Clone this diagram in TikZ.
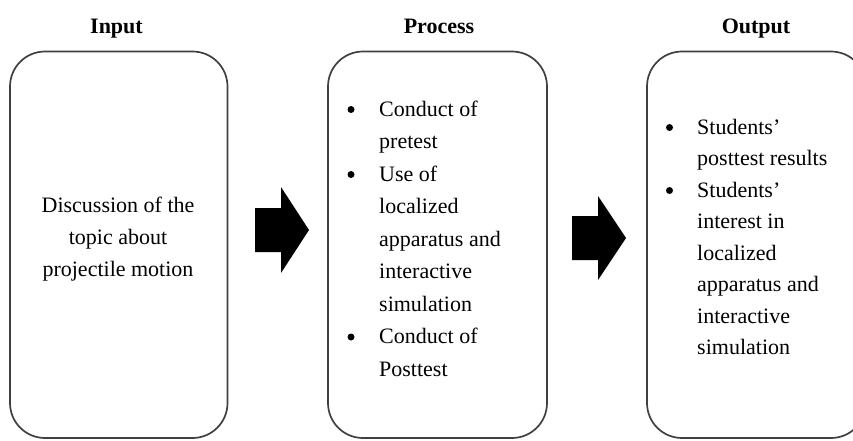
\documentclass[tikz,border=0pt]{standalone}
\usepackage{fontspec}
\setmainfont{Liberation Serif}
\newcommand\bodyfnt{\fontsize{22}{32}\selectfont}
\newcommand\titlefnt{\fontsize{22}{26}\selectfont\bfseries}
\begin{document}
\begin{tikzpicture}[x=1pt,y=-1pt,
  box/.style={draw=black!75, line width=1.7pt, rounded corners=35pt, minimum height=386.5pt, inner sep=0pt},
  ttl/.style={font=\titlefnt, anchor=base, inner sep=0pt},
  txt/.style={font=\bodyfnt, anchor=base west, inner sep=0pt},
  bul/.style={circle, fill=black, inner sep=0pt, minimum size=7pt},
  blockarrow/.style={fill=black}]
\useasboundingbox (0,0) rectangle (853,440);
\clip (0,0) rectangle (853,440);
\fill[white] (0,0) rectangle (853,440);

% boxes
\node[box, minimum width=217.5pt] (inbox) at (118.75,244.75) {};
\node[box, minimum width=219pt] (procbox) at (437.5,244.75) {};
\node[box, minimum width=219pt] (outbox) at (756.5,244.75) {};

% titles
\node[ttl] (tin) at (116.5,33) {Input};
\node[ttl] (tproc) at (439,33) {Process};
\node[ttl] (tout) at (756,33) {Output};

% input text
\node[font=\bodyfnt, align=center, inner sep=0pt] (intext) at (118,239)
  {Discussion of the\\topic about\\projectile motion};

% process list
\node[bul] (pb1) at (351,109.5) {};
\node[txt] (p1) at (379,116) {Conduct of};
\node[txt] (p2) at (379,148.5) {pretest};
\node[bul] (pb2) at (351,174.5) {};
\node[txt] (p3) at (379,181) {Use of};
\node[txt] (p4) at (379,213.5) {localized};
\node[txt] (p5) at (379,246) {apparatus and};
\node[txt] (p6) at (379,278.5) {interactive};
\node[txt] (p7) at (379,311) {simulation};
\node[bul] (pb3) at (351,337) {};
\node[txt] (p8) at (379,343.5) {Conduct of};
\node[txt] (p9) at (379,376) {Posttest};

% output list
\node[bul] (ob1) at (669.5,127.5) {};
\node[txt] (o1) at (697,134) {Students’};
\node[txt] (o2) at (697,165.5) {posttest results};
\node[bul] (ob2) at (669.5,190.5) {};
\node[txt] (o3) at (697,197) {Students’};
\node[txt] (o4) at (697,228.5) {interest in};
\node[txt] (o5) at (697,260) {localized};
\node[txt] (o6) at (697,291.5) {apparatus and};
\node[txt] (o7) at (697,323) {interactive};
\node[txt] (o8) at (697,354.5) {simulation};

% block arrows between boxes
\coordinate (a1) at (255,230);
\coordinate (a2) at (572,238);
\fill[blockarrow] (a1) ++(0,-22) -- ++(26,0) -- ++(0,-21) -- ++(28,43) -- ++(-28,43) -- ++(0,-21) -- ++(-26,0) -- cycle;
\fill[blockarrow] (a2) ++(0,-22) -- ++(26,0) -- ++(0,-20) -- ++(28,42) -- ++(-28,42) -- ++(0,-20) -- ++(-26,0) -- cycle;
\end{tikzpicture}
\end{document}
